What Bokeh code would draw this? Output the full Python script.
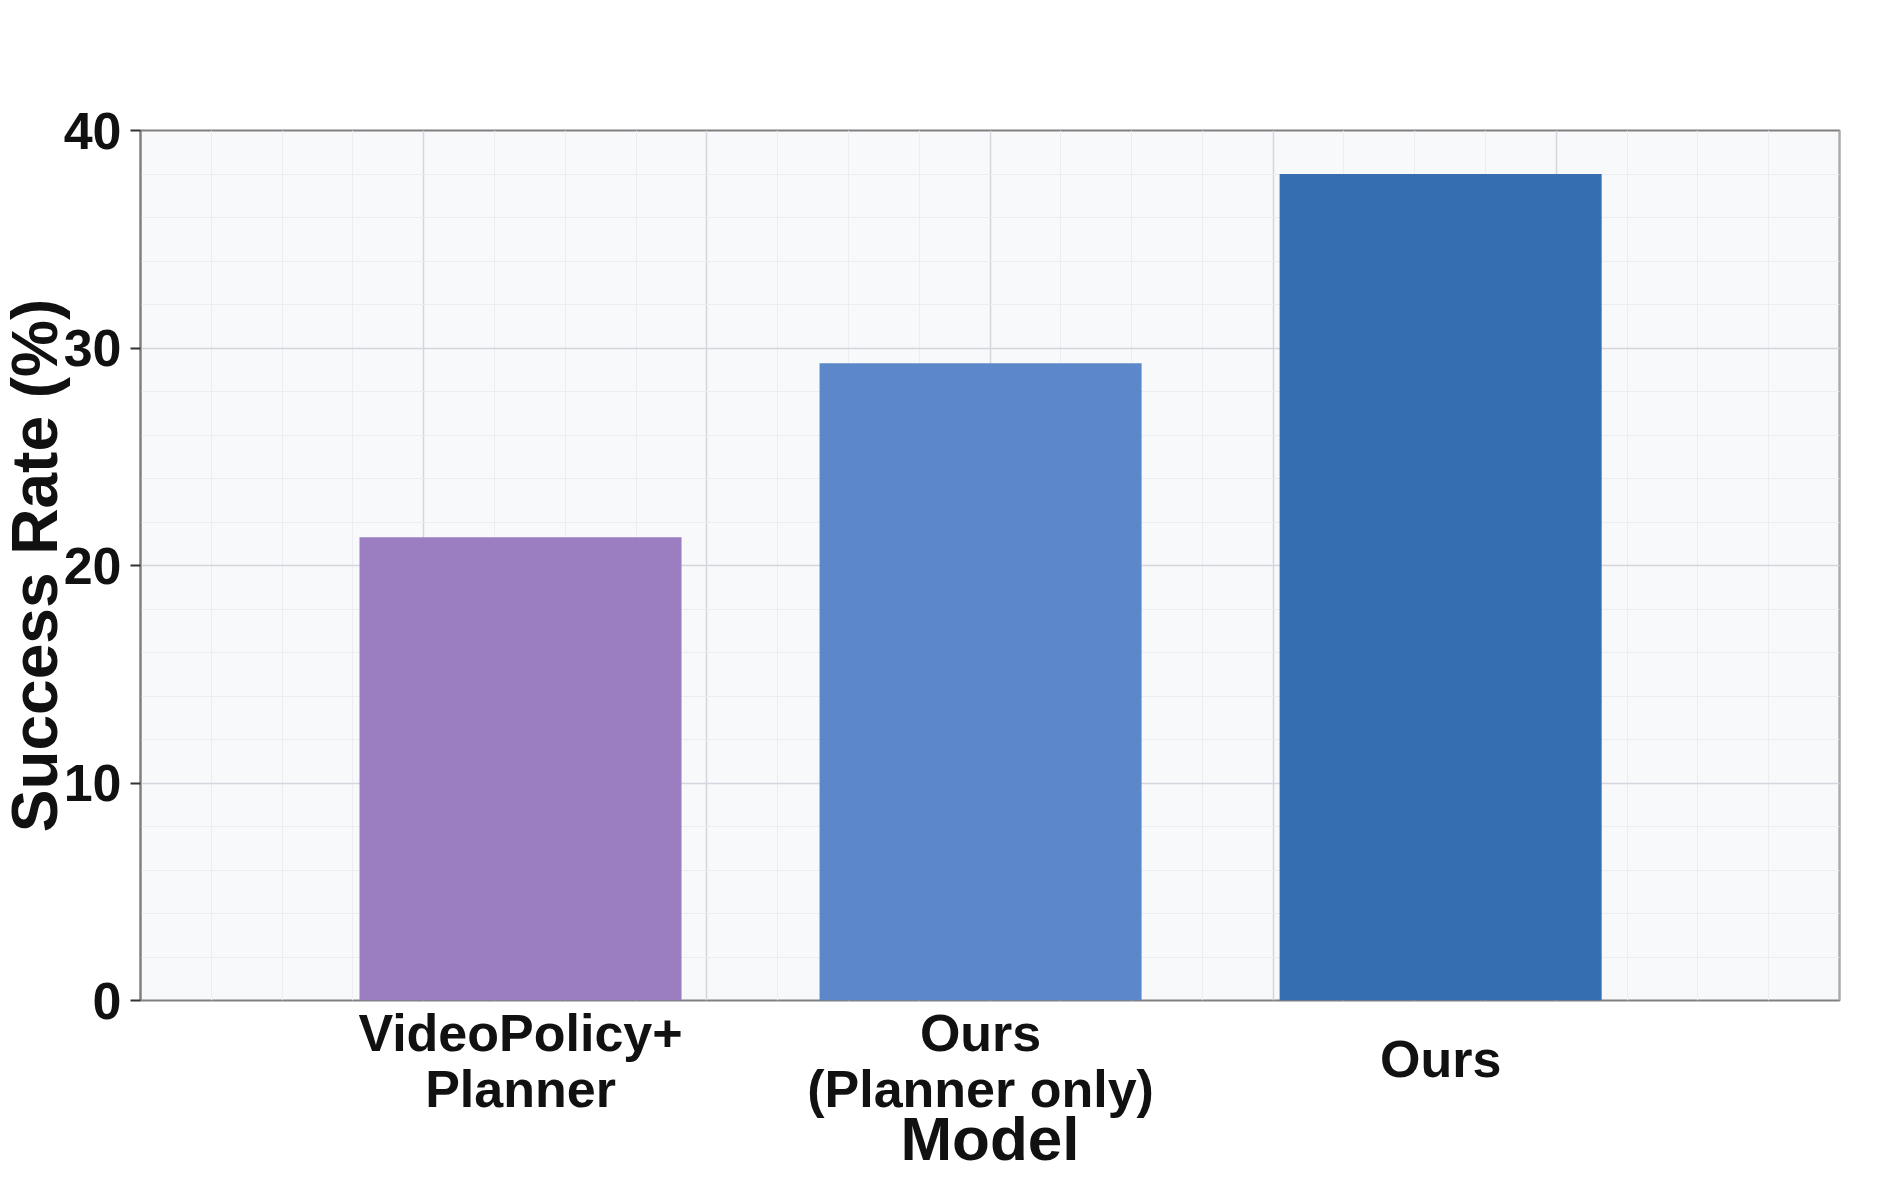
from bokeh.plotting import figure
from bokeh.models import (ColumnDataSource, FixedTicker, LinearAxis, Range1d,
                          SingleIntervalTicker)
from bokeh.embed import file_html
from bokeh.resources import INLINE

# --- data -------------------------------------------------------------
models = ["VideoPolicy+\nPlanner", "Ours\n(Planner only)", "Ours"]
success_rate = [21.3, 29.3, 38.0]
bar_colors = ["#9B7EC2", "#5C87C8", "#356FB1"]
y_ticks = [0, 10, 20, 30, 40]

FONT = "Liberation Sans"
INK = "#111111"

positions = list(range(len(models)))
src = ColumnDataSource(dict(x=positions, top=success_rate, color=bar_colors))

# the canvas is 11px wider than the page and pulled left by the same
# amount, so the rotated y title can sit close to the page edge
SHIFT = 11
x_start, x_end = -0.826, 2.867
p = figure(width=1900 + SHIFT, height=1180, output_backend="svg",
           toolbar_location=None,
           x_range=Range1d(x_start, x_end), y_range=Range1d(0, 40),
           min_border_left=140 + SHIFT, min_border_right=61,
           min_border_top=130, min_border_bottom=180,
           styles={"margin-left": f"-{SHIFT}px"})

p.background_fill_color = "#F8F9FB"
p.border_fill_color = "white"
p.outline_line_color = "#808080"
p.outline_line_width = 2

p.vbar(x="x", top="top", bottom=0, width=0.7, color="color",
       line_color=None, source=src)

# vertical grid: 24 equal divisions of the x span, heavier every fourth
n_div = 24
step = (x_end - x_start) / n_div
all_lines = [x_start + k * step for k in range(n_div + 1)]
major_lines = [v for k, v in enumerate(all_lines) if k % 4 == 0]
minor_lines = [v for k, v in enumerate(all_lines) if k % 4 != 0]
p.xgrid.ticker = FixedTicker(ticks=major_lines, minor_ticks=minor_lines)
p.xgrid.grid_line_color = "#D5D6DD"
p.xgrid.grid_line_width = 1.5
p.xgrid.minor_grid_line_color = "#ECEDF1"
p.xgrid.minor_grid_line_width = 1

p.ygrid.ticker = SingleIntervalTicker(interval=10, num_minor_ticks=5)
p.ygrid.grid_line_color = "#D5D6DD"
p.ygrid.grid_line_width = 1.5
p.ygrid.minor_grid_line_color = "#ECEDF1"
p.ygrid.minor_grid_line_width = 1

# --- y axis -------------------------------------------------------------
yax = p.yaxis[0]
yax.ticker = FixedTicker(ticks=y_ticks)
yax.axis_line_color = "#808080"
yax.axis_line_width = 2
yax.major_tick_line_color = "#333333"
yax.major_tick_line_width = 2
yax.major_tick_out = 10
yax.major_tick_in = 0
yax.minor_tick_line_color = None
yax.major_label_standoff = 9
yax.major_label_text_font = FONT
yax.major_label_text_font_style = "bold"
yax.major_label_text_font_size = "52px"
yax.major_label_text_color = INK
yax.axis_label = "Success Rate (%)"
yax.axis_label_text_font = FONT
yax.axis_label_text_font_style = "bold"
yax.axis_label_text_font_size = "64px"
yax.axis_label_text_color = INK
yax.axis_label_standoff = -10


def plain_x_axis(ax, ticks, labels, size, standoff):
    ax.ticker = FixedTicker(ticks=ticks)
    ax.major_label_overrides = dict(zip(ticks, labels))
    ax.axis_line_color = None
    ax.major_tick_line_color = None
    ax.minor_tick_line_color = None
    ax.major_tick_out = 0
    ax.major_tick_in = 0
    ax.major_label_standoff = standoff
    ax.major_label_text_font = FONT
    ax.major_label_text_font_style = "bold"
    ax.major_label_text_font_size = size
    ax.major_label_text_color = INK
    ax.major_label_text_line_height = 0.97


# two-line category names
plain_x_axis(p.xaxis[0], positions[:2], models[:2], "52px", 3)

# axis title, centred under the plot area
title_axis = LinearAxis()
plain_x_axis(title_axis, [(x_start + x_end) / 2], ["Model"], "62px", -17)
p.add_layout(title_axis, "below")

# single-line category name, centred on the two-line block
last_axis = LinearAxis()
plain_x_axis(last_axis, positions[2:], models[2:], "52px", -146)
p.add_layout(last_axis, "below")

open("out.html", "w").write(file_html(p, INLINE))
